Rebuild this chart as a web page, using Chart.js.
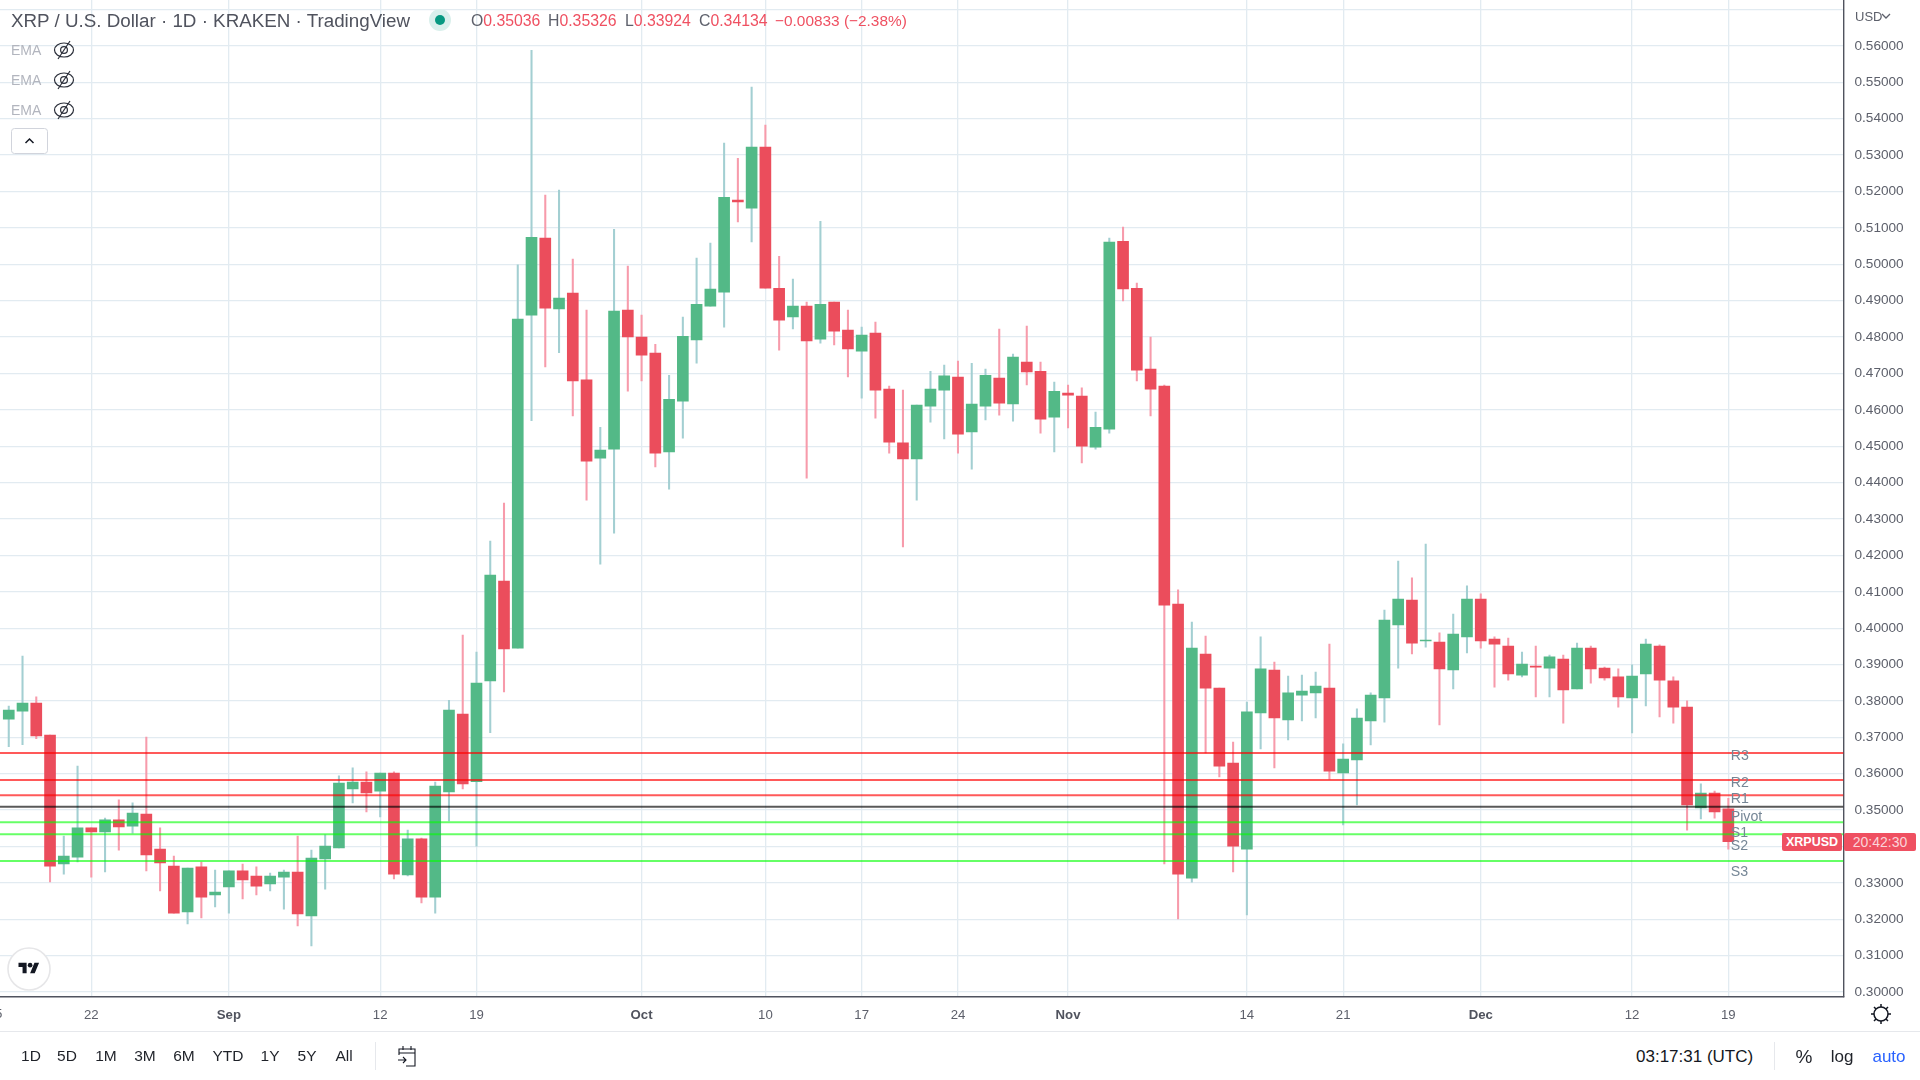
<!DOCTYPE html>
<html>
<head>
<meta charset="utf-8">
<title>XRP / U.S. Dollar</title>
<script src="https://cdn.jsdelivr.net/npm/chart.js@4/dist/chart.umd.min.js"></script>
<style>
    html, body { margin: 0; padding: 0; background: #fff; width: 1920px; height: 1080px; overflow: hidden; }
    body { position: relative; font-family: "Liberation Sans", sans-serif; color: #50535e; }
    #chart { position: absolute; left: 0; top: 0; }
    .t { position: absolute; white-space: nowrap; line-height: 1; transform: translateY(-50%); }
    .red { color: #ef5061; }
    .grey { color: #5d606b; }
    .ema { color: #b2b5be; font-size: 14px; left: 11px; }
    .btn { font-size: 15.5px; color: #1f2229; transform: translate(-50%, -50%); }
    .rule { position: absolute; background: #e6e8ec; }
    .tag { position: absolute; background: #ef5061; height: 18px; top: 833px; border-radius: 2px; text-align: center; line-height: 18px; font-size: 14px; }
    svg { position: absolute; }
</style>
</head>
<body>
<canvas id="chart" width="1920" height="1031"></canvas>

<div class="t" style="left:11px;top:21px;font-size:18.8px">XRP / U.S. Dollar · 1D · KRAKEN · TradingView</div>
<svg style="left:428px;top:9px" width="24" height="24"><circle cx="12" cy="11" r="11" fill="#daf0ec"/><circle cx="12" cy="11" r="5" fill="#089981"/></svg>
<div class="t" style="left:471px;top:21px;font-size:15.8px"><span class="grey">O</span><span class="red">0.35036</span></div>
<div class="t" style="left:548px;top:21px;font-size:15.8px"><span class="grey">H</span><span class="red">0.35326</span></div>
<div class="t" style="left:625px;top:21px;font-size:15.8px"><span class="grey">L</span><span class="red">0.33924</span></div>
<div class="t" style="left:699px;top:21px;font-size:15.8px"><span class="grey">C</span><span class="red">0.34134</span></div>
<div class="t red" style="left:775px;top:21px;font-size:15.4px">−0.00833 (−2.38%)</div>

<div class="t ema" style="top:50px">EMA</div>
<div class="t ema" style="top:80px">EMA</div>
<div class="t ema" style="top:110px">EMA</div>
<svg style="left:53px;top:39px" width="22" height="22" fill="none" stroke="#2a2e39" stroke-width="1.2"><ellipse cx="11" cy="11" rx="9.5" ry="7"/><circle cx="11" cy="11" r="3.4"/><path d="M5 20 L17 2"/></svg>
<svg style="left:53px;top:69px" width="22" height="22" fill="none" stroke="#2a2e39" stroke-width="1.2"><ellipse cx="11" cy="11" rx="9.5" ry="7"/><circle cx="11" cy="11" r="3.4"/><path d="M5 20 L17 2"/></svg>
<svg style="left:53px;top:99px" width="22" height="22" fill="none" stroke="#2a2e39" stroke-width="1.2"><ellipse cx="11" cy="11" rx="9.5" ry="7"/><circle cx="11" cy="11" r="3.4"/><path d="M5 20 L17 2"/></svg>
<svg style="left:11px;top:128px" width="37" height="26"><rect x="0.5" y="0.5" width="36" height="25" rx="3" fill="#fff" stroke="#d1d4dc"/><path d="M14.5 15 L18.5 11 L22.5 15" fill="none" stroke="#131722" stroke-width="1.5"/></svg>

<svg style="left:7px;top:947px" width="44" height="44"><circle cx="22" cy="22" r="21" fill="#fff" stroke="#e6e6e8" stroke-width="1.6"/><g transform="translate(11.5,13.5) scale(0.58)" fill="#131722"><path d="M14 22H7V11H0V4h14v18zM28 22h-8l7.5-18h8L28 22z"/><circle cx="20" cy="8" r="4"/></g></svg>

<div class="t grey" style="left:-5px;top:1014px;font-size:13.2px;transform:translate(-50%,-50%)">15</div>
<div class="t" style="left:1855px;top:16px;font-size:13px;color:#5d606b">USD</div>
<svg style="left:1881px;top:12px" width="10" height="8"><path d="M1 2 L5 6 L9 2" fill="none" stroke="#5d606b" stroke-width="1.3"/></svg>

<div class="tag" style="left:1782px;width:60px;color:#fff;font-weight:bold;font-size:12.5px">XRPUSD</div>
<div class="tag" style="left:1844px;width:72px;color:#fbd5da">20:42:30</div>

<svg style="left:1869px;top:1002px" width="24" height="24" fill="none" stroke="#131722" stroke-width="1.5"><circle cx="12" cy="12" r="7"/><path d="M12 2v3M12 19v3M2 12h3M19 12h3M5 5l2 2M17 17l2 2M5 19l2-2M17 7l2-2"/></svg>

<div class="rule" style="left:0;top:1031px;width:1920px;height:1px"></div>
<div class="t btn" style="left:31px;top:1056px">1D</div>
<div class="t btn" style="left:67px;top:1056px">5D</div>
<div class="t btn" style="left:106px;top:1056px">1M</div>
<div class="t btn" style="left:145px;top:1056px">3M</div>
<div class="t btn" style="left:184px;top:1056px">6M</div>
<div class="t btn" style="left:228px;top:1056px">YTD</div>
<div class="t btn" style="left:270px;top:1056px">1Y</div>
<div class="t btn" style="left:307px;top:1056px">5Y</div>
<div class="t btn" style="left:344px;top:1056px">All</div>
<div class="rule" style="left:375px;top:1042px;width:1px;height:28px"></div>
<svg style="left:396px;top:1044px" width="22" height="24" fill="none" stroke="#131722" stroke-width="1.1"><path d="M3 11V5h16v17h-9M3 9h16M7 2v4M15 2v4M2 16h8M7 13l3 3-3 3"/></svg>

<div class="t" style="left:1636px;top:1056px;font-size:17px;color:#131722">03:17:31 (UTC)</div>
<div class="rule" style="left:1774px;top:1042px;width:1px;height:28px"></div>
<div class="t btn" style="left:1804px;top:1056px;font-size:19px">%</div>
<div class="t btn" style="left:1842px;top:1056px;font-size:17px">log</div>
<div class="t btn" style="left:1889px;top:1056px;font-size:17px;color:#2962ff">auto</div>

<script>
    // --- CANDLES, first one is day -6, day 0 is Aug 22 ---
    const firstDay = -6;
    const opens = [
        0.3750, 0.3772, 0.3794, 0.3706, 0.3352, 0.3371, 0.3451, 0.3440, 0.3473, 0.3456, 0.3489, 0.3393, 0.3346, 0.3220,
        0.3344, 0.3267, 0.3289, 0.3333, 0.3319, 0.3297, 0.3316, 0.3330, 0.3209, 0.3366, 0.3396, 0.3558, 0.3577, 0.3552,
        0.3602, 0.3322, 0.3421, 0.3261, 0.3550, 0.3764, 0.3578, 0.3855, 0.4129, 0.3945, 0.4860, 0.5072, 0.4877, 0.4921,
        0.4682, 0.4467, 0.4492, 0.4874, 0.4800, 0.4756, 0.4484, 0.4624, 0.4792, 0.4885, 0.4923, 0.5176, 0.5154, 0.5322,
        0.4934, 0.4855, 0.4885, 0.4794, 0.4896, 0.4819, 0.4761, 0.4811, 0.4657, 0.4509, 0.4465, 0.4610, 0.4654, 0.4690,
        0.4539, 0.4610, 0.4687, 0.4616, 0.4731, 0.4706, 0.4580, 0.4646, 0.4638, 0.4497, 0.4547, 0.5063, 0.4934, 0.4712,
        0.4665, 0.4066, 0.3313, 0.3929, 0.3835, 0.3629, 0.3393, 0.3767, 0.3885, 0.3748, 0.3816, 0.3822, 0.3835, 0.3602,
        0.3638, 0.3745, 0.3808, 0.4009, 0.4077, 0.3965, 0.3962, 0.3885, 0.3976, 0.4080, 0.3970, 0.3951, 0.3871, 0.3896,
        0.3890, 0.3915, 0.3833, 0.3945, 0.3890, 0.3866, 0.3808, 0.3874, 0.3951, 0.3855, 0.3783, 0.3506, 0.3547, 0.35036
    ];
    const highs = [
        0.3786, 0.3923, 0.3811, 0.3706, 0.3429, 0.3621, 0.3451, 0.3478, 0.3528, 0.3520, 0.3701, 0.3451, 0.3374, 0.3341,
        0.3357, 0.3335, 0.3333, 0.3352, 0.3344, 0.3327, 0.3335, 0.3429, 0.3390, 0.3432, 0.3594, 0.3616, 0.3605, 0.3602,
        0.3605, 0.3445, 0.3423, 0.3577, 0.3802, 0.3981, 0.3934, 0.4239, 0.4344, 0.4998, 0.5588, 0.5190, 0.5204, 0.5014,
        0.4874, 0.4552, 0.5096, 0.4995, 0.4860, 0.4780, 0.4695, 0.4855, 0.5017, 0.5058, 0.5333, 0.5291, 0.5487, 0.5382,
        0.5022, 0.4959, 0.4896, 0.5118, 0.4896, 0.4874, 0.4827, 0.4841, 0.4665, 0.4654, 0.4613, 0.4706, 0.4723, 0.4734,
        0.4728, 0.4712, 0.4822, 0.4753, 0.4830, 0.4731, 0.4676, 0.4668, 0.4660, 0.4594, 0.5072, 0.5102, 0.4948, 0.4800,
        0.4668, 0.4105, 0.4017, 0.3978, 0.3835, 0.3687, 0.3797, 0.3976, 0.3907, 0.3868, 0.3871, 0.3879, 0.3956, 0.3682,
        0.3778, 0.3822, 0.4050, 0.4184, 0.4138, 0.4231, 0.3987, 0.4039, 0.4116, 0.4094, 0.3976, 0.3973, 0.3934, 0.3951,
        0.3926, 0.3926, 0.3959, 0.3951, 0.3893, 0.3888, 0.3899, 0.3970, 0.3954, 0.3866, 0.3800, 0.3572, 0.3552, 0.35326
    ];
    const lows = [
        0.3674, 0.3680, 0.3696, 0.3303, 0.3324, 0.3358, 0.3316, 0.3330, 0.3390, 0.3437, 0.3333, 0.3278, 0.3217, 0.3187,
        0.3204, 0.3234, 0.3217, 0.3256, 0.3267, 0.3278, 0.3228, 0.3182, 0.3127, 0.3283, 0.3396, 0.3520, 0.3495, 0.3481,
        0.3311, 0.3319, 0.3245, 0.3217, 0.3470, 0.3558, 0.3401, 0.3713, 0.3825, 0.3945, 0.4570, 0.4718, 0.4757, 0.4583,
        0.4352, 0.4176, 0.4261, 0.4651, 0.4679, 0.4443, 0.4382, 0.4522, 0.4728, 0.4885, 0.4827, 0.5116, 0.5061, 0.4934,
        0.4764, 0.4822, 0.4412, 0.4783, 0.4778, 0.4690, 0.4632, 0.4577, 0.4481, 0.4223, 0.4352, 0.4566, 0.4520, 0.4481,
        0.4437, 0.4572, 0.4585, 0.4569, 0.4668, 0.4536, 0.4484, 0.4550, 0.4454, 0.4492, 0.4536, 0.4899, 0.4679, 0.4583,
        0.3352, 0.3201, 0.3302, 0.3657, 0.3591, 0.3330, 0.3212, 0.3668, 0.3616, 0.3693, 0.3745, 0.3753, 0.3585, 0.3459,
        0.3514, 0.3679, 0.3742, 0.3890, 0.3929, 0.3948, 0.3734, 0.3833, 0.3932, 0.3945, 0.3838, 0.3857, 0.3866, 0.3811,
        0.3811, 0.3739, 0.3833, 0.3849, 0.3857, 0.3783, 0.3712, 0.3786, 0.3756, 0.3739, 0.3445, 0.3476, 0.3478, 0.33924
    ];
    const closes = [
        0.3775, 0.3794, 0.3704, 0.3346, 0.3374, 0.3451, 0.3440, 0.3473, 0.3454, 0.3492, 0.3377, 0.3355, 0.3217, 0.3341,
        0.3261, 0.3275, 0.3333, 0.3308, 0.3291, 0.3319, 0.3330, 0.3215, 0.3368, 0.3401, 0.3574, 0.3577, 0.3547, 0.3602,
        0.3324, 0.3421, 0.3261, 0.3566, 0.3775, 0.3572, 0.3849, 0.4146, 0.3943, 0.4849, 0.5074, 0.4879, 0.4907, 0.4679,
        0.4459, 0.4489, 0.4871, 0.4800, 0.4750, 0.4481, 0.4629, 0.4802, 0.4890, 0.4932, 0.5184, 0.5171, 0.5322, 0.4934,
        0.4846, 0.4885, 0.4789, 0.4890, 0.4816, 0.4767, 0.4805, 0.4654, 0.4511, 0.4465, 0.4613, 0.4657, 0.4693, 0.4533,
        0.4616, 0.4695, 0.4618, 0.4745, 0.4704, 0.4574, 0.4651, 0.4640, 0.4500, 0.4552, 0.5061, 0.4932, 0.4709, 0.4657,
        0.4063, 0.3324, 0.3945, 0.3835, 0.3621, 0.3401, 0.3770, 0.3888, 0.3753, 0.3822, 0.3827, 0.3841, 0.3607, 0.3640,
        0.3753, 0.3816, 0.4022, 0.4080, 0.3959, 0.3967, 0.3888, 0.3984, 0.4080, 0.3965, 0.3956, 0.3874, 0.3901, 0.3893,
        0.3921, 0.3830, 0.3945, 0.3888, 0.3863, 0.3811, 0.3868, 0.3956, 0.3857, 0.3783, 0.3514, 0.3547, 0.3495, 0.34134
    ];

    // --- AXES ---
    const tickDays = [0, 10, 21, 28, 40, 49, 56, 63, 71, 84, 91, 101, 112, 119];
    const tickLabels = ['22', 'Sep', '12', '19', 'Oct', '10', '17', '24', 'Nov', '14', '21', 'Dec', '12', '19'];
    const monthLabels = ['Sep', 'Oct', 'Nov', 'Dec'];
    const priceTicks = [0.30, 0.31, 0.32, 0.33, 0.34, 0.35, 0.36, 0.37, 0.38, 0.39, 0.40, 0.41, 0.42, 0.43, 0.44,
        0.45, 0.46, 0.47, 0.48, 0.49, 0.50, 0.51, 0.52, 0.53, 0.54, 0.55, 0.56, 0.57];
    const dayMin = -6.637;
    const dayMax = 127.37;
    const priceMin = 0.29865;
    const priceMax = 0.5726;

    // --- PIVOT LEVELS ---
    const pivotNames = ['R3', 'R2', 'R1', 'Pivot', 'S1', 'S2', 'S3'];
    const pivotLevels = [0.3657, 0.3583, 0.3541, 0.3509, 0.3467, 0.3434, 0.3360];
    const pivotLabelPrices = [0.3649, 0.3575, 0.3530, 0.3480, 0.3438, 0.3402, 0.3330];
    const pivotColors = ['rgba(255,0,0,.65)', 'rgba(255,0,0,.65)', 'rgba(255,0,0,.65)', 'rgba(0,0,0,.65)',
        'rgba(0,255,0,.6)', 'rgba(0,255,0,.6)', 'rgba(0,255,0,.6)'];

    const GREEN = '#53b987';
    const RED = '#eb4d5c';
    const GREEN_WICK = '#a3cfd2';
    const RED_WICK = '#f79bab';

    const isUp = opens.map((o, i) => closes[i] >= o);

    const pivotDatasets = pivotLevels.map((level, i) => ({
        type: 'line',
        label: pivotNames[i],
        data: [{ x: dayMin, y: level }, { x: dayMax, y: level }],
        borderColor: pivotColors[i],
        borderWidth: 2,
        pointRadius: 0,
        order: 0
    }));

    // the labels next to the last candle
    const pivotLabelPlugin = {
        id: 'pivotLabels',
        afterDatasetsDraw(chart) {
            const { ctx, scales } = chart;
            ctx.save();
            ctx.font = '14.2px "Liberation Sans"';
            ctx.fillStyle = '#758696';
            ctx.textBaseline = 'middle';
            pivotNames.forEach((name, i) => {
                ctx.fillText(name, scales.x.getPixelForValue(119) + 2.4, scales.y.getPixelForValue(pivotLabelPrices[i]));
            });
            ctx.restore();
        }
    };

    new Chart(document.getElementById('chart').getContext('2d'), {
        data: {
            datasets: [
                {
                    type: 'bar',
                    label: 'Wicks',
                    data: lows.map((l, i) => ({ x: firstDay + i, y: [l, highs[i]] })),
                    backgroundColor: isUp.map(up => up ? GREEN_WICK : RED_WICK),
                    barThickness: 1.4,
                    grouped: false,
                    order: 2
                },
                {
                    type: 'bar',
                    label: 'Bodies',
                    data: opens.map((o, i) => ({ x: firstDay + i, y: [o, closes[i]] })),
                    backgroundColor: isUp.map(up => up ? GREEN : RED),
                    barThickness: 11,
                    grouped: false,
                    order: 1
                },
                ...pivotDatasets
            ]
        },
        options: {
            responsive: false,
            animation: false,
            layout: { padding: 0, autoPadding: false },
            plugins: { legend: { display: false }, tooltip: { enabled: false } },
            scales: {
                x: {
                    type: 'linear',
                    offset: false,
                    min: dayMin,
                    max: dayMax,
                    afterBuildTicks: scale => { scale.ticks = tickDays.map(value => ({ value })); },
                    afterFit: scale => { scale.height = 34; },
                    grid: { color: '#e2ebf1', lineWidth: 1.3, drawTicks: false, offset: false },
                    border: { color: '#50535e', width: 1.4 },
                    ticks: {
                        autoSkip: false,
                        maxRotation: 0,
                        padding: 10,
                        color: ctx => monthLabels.includes(tickLabels[ctx.index]) ? '#50535e' : '#5d606b',
                        font: ctx => ({
                            family: '"Liberation Sans"',
                            size: 13.2,
                            weight: monthLabels.includes(tickLabels[ctx.index]) ? 'bold' : 'normal'
                        }),
                        callback: (value, index) => tickLabels[index]
                    }
                },
                y: {
                    type: 'linear',
                    position: 'right',
                    min: priceMin,
                    max: priceMax,
                    afterBuildTicks: scale => { scale.ticks = priceTicks.map(value => ({ value })); },
                    afterFit: scale => {
                        scale.width = 76.5;
                        // tick padding would otherwise push the plot down from the top edge
                        scale.paddingTop = 0;
                        scale.paddingBottom = 0;
                    },
                    grid: { color: '#e2ebf1', lineWidth: 1.3, drawTicks: false },
                    border: { color: '#50535e', width: 1.4 },
                    ticks: {
                        autoSkip: false,
                        padding: 11,
                        color: '#5d606b',
                        font: { family: '"Liberation Sans"', size: 13.6 },
                        // 0.57 sits under the currency menu
                        callback: value => value > 0.565 ? '' : value.toFixed(5)
                    }
                }
            }
        },
        plugins: [pivotLabelPlugin]
    });
</script>
</body>
</html>
